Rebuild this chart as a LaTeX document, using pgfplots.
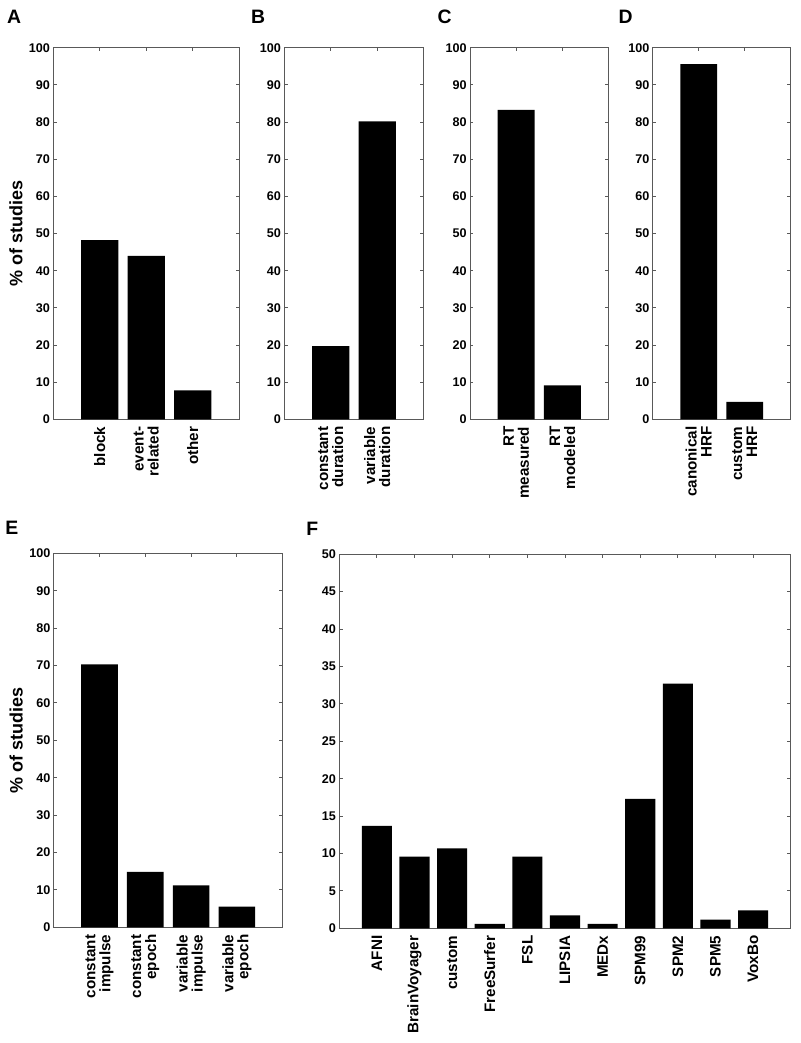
\documentclass[border=0pt]{standalone}
\usepackage{fontspec}
\setmainfont{Liberation Sans}
\usepackage{pgfplots}
\pgfplotsset{compat=1.18}
\definecolor{axgray}{gray}{0.35}
\pgfplotsset{
  panel/.style={
    scale only axis,
    ybar, bar width=0.8,
    ymin=0,
    axis line style={draw=axgray, line width=0.5pt},
    tick style={draw=axgray, line width=0.45pt},
    tick align=inside,
    major tick length=1.7pt,
    /pgf/number format/assume math mode=true,
    yticklabel style={font=\bfseries\fontsize{6.3}{7}\selectfont, inner xsep=1.5pt},
    xticklabel style={font=\bfseries\fontsize{7.6}{7.5}\selectfont, rotate=90, anchor=east, align=right, inner xsep=3.5pt},
    ylabel style={font=\bfseries\fontsize{9}{10}\selectfont, inner sep=1.5pt},
  },
  blackbar/.style={fill=black, draw=none},
}
\newcommand{\plab}[3]{\node[anchor=base west, inner sep=0pt, font=\bfseries\fontsize{9.7}{10}\selectfont] at (#1,#2) {#3};}
\begin{document}
\begin{tikzpicture}
\path[use as bounding box] (0pt,0pt) rectangle (400pt,-521.5pt);

% Panel A
\begin{axis}[panel, at={(26.65pt,-209.65pt)}, anchor=south west,
  width=93pt, height=185.8pt, xmin=0, xmax=4, ymax=100,
  ytick={0,10,...,100}, xtick={1,2,3},
  xticklabels={block,{event-\\related},other},
  ylabel={\% of studies}]
\addplot[blackbar] coordinates {(1,48.2) (2,44.0) (3,7.8)};
\end{axis}

% Panel B
\begin{axis}[panel, at={(142.1pt,-209.65pt)}, anchor=south west,
  width=69.8pt, height=185.8pt, xmin=0, xmax=3, ymax=100,
  ytick={0,10,...,100}, xtick={1,2},
  xticklabels={{constant\\duration},{variable\\duration}}]
\addplot[blackbar] coordinates {(1,19.7) (2,80.2)};
\end{axis}

% Panel C
\begin{axis}[panel, at={(235pt,-209.65pt)}, anchor=south west,
  width=69.35pt, height=185.8pt, xmin=0, xmax=3, ymax=100,
  ytick={0,10,...,100}, xtick={1,2},
  xticklabels={{RT\\measured},{RT\\modeled}}]
\addplot[blackbar] coordinates {(1,83.3) (2,9.1)};
\end{axis}

% Panel D
\begin{axis}[panel, at={(326.35pt,-209.65pt)}, anchor=south west,
  width=69pt, height=185.8pt, xmin=0, xmax=3, ymax=100,
  ytick={0,10,...,100}, xtick={1,2},
  xticklabels={{canonical\\HRF},{custom\\HRF}}]
\addplot[blackbar] coordinates {(1,95.6) (2,4.7)};
\end{axis}

% Panel E
\begin{axis}[panel, at={(26.85pt,-463.65pt)}, anchor=south west,
  width=114.5pt, height=187pt, xmin=0, xmax=5, ymax=100,
  ytick={0,10,...,100}, xtick={1,2,3,4},
  xticklabels={{constant\\impulse},{constant\\epoch},{variable\\impulse},{variable\\epoch}},
  ylabel={\% of studies}]
\addplot[blackbar] coordinates {(1,70.3) (2,14.85) (3,11.2) (4,5.5)};
\end{axis}

% Panel F
\begin{axis}[panel, at={(169.65pt,-464.15pt)}, anchor=south west,
  width=225.7pt, height=187pt, xmin=0, xmax=12, ymax=50,
  ytick={0,5,...,50}, xtick={1,...,11},
  xticklabels={AFNI,BrainVoyager,custom,FreeSurfer,FSL,LIPSIA,MEDx,SPM99,SPM2,SPM5,VoxBo}]
\addplot[blackbar] coordinates {(1,13.7) (2,9.6) (3,10.7) (4,0.58) (5,9.6) (6,1.74) (7,0.58) (8,17.3) (9,32.7) (10,1.16) (11,2.4)};
\end{axis}

\plab{3.35pt}{-11.65pt}{A}
\plab{125.35pt}{-11.65pt}{B}
\plab{218.65pt}{-11.65pt}{C}
\plab{309.15pt}{-11.65pt}{D}
\plab{2.5pt}{-267pt}{E}
\plab{153pt}{-267.65pt}{F}
\end{tikzpicture}
\end{document}
